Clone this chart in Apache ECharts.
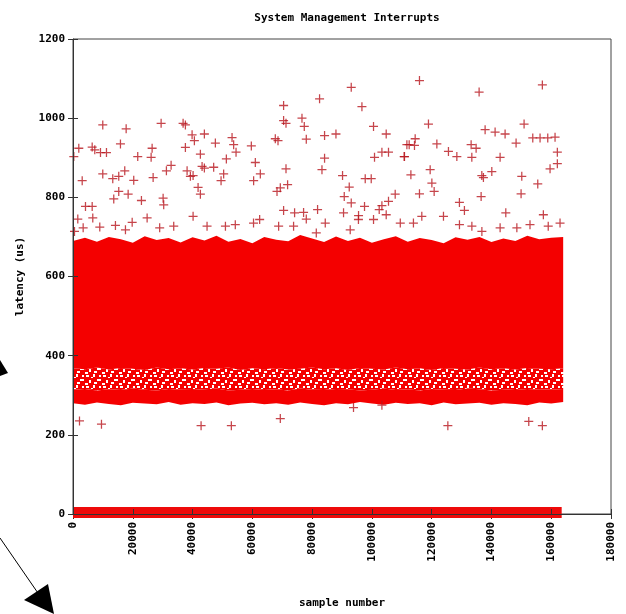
<!DOCTYPE html>
<html lang="en">
<head>
    <meta charset="UTF-8">
    <title>System Management Interrupts</title>
    <style>
        body { margin: 0; background: #fff; }
        #chart { width: 626px; height: 614px; }
    </style>
    <script src="https://cdn.jsdelivr.net/npm/echarts@6/dist/echarts.min.js"></script>
</head>
<body>
<div id="chart"></div>
<script>
    const bandX = [0, 4000, 8000, 12000, 16000, 20000, 24000, 28000, 32000, 36000, 40000,
        44000, 48000, 52000, 56000, 60000, 64000, 68000, 72000, 76000, 80000,
        84000, 88000, 92000, 96000, 100000, 104000, 108000, 112000, 116000, 120000,
        124000, 128000, 132000, 136000, 140000, 144000, 148000, 152000, 156000, 160000, 164000];
    // top of the solid main band (us)
    const mainTop = [690, 698, 688, 700, 694, 685, 702, 692, 697, 686, 699, 691, 703, 688,
        695, 684, 700, 693, 689, 705, 696, 687, 701, 690, 698, 685, 694, 702, 688, 697,
        692, 684, 699, 693, 700, 687, 696, 690, 703, 694, 698, 700];
    // bottom of the solid main band
    const mainBottom = [368, 366, 370, 365, 369, 367, 364, 370, 366, 368, 365, 369, 367, 370,
        364, 368, 366, 369, 365, 367, 370, 366, 368, 364, 369, 367, 365, 370, 366, 368,
        364, 369, 367, 365, 370, 366, 368, 365, 369, 367, 366, 368];
    // top and bottom of the lower band around 300 us
    const lowTop = [314, 316, 312, 315, 313, 317, 314, 312, 316, 314, 313, 315, 317, 312,
        314, 316, 313, 315, 312, 317, 314, 313, 316, 315, 312, 314, 317, 313, 315, 312,
        316, 314, 313, 317, 315, 312, 314, 316, 313, 315, 314, 316];
    const lowBottom = [280, 276, 282, 278, 275, 281, 279, 277, 283, 276, 280, 278, 282, 275,
        279, 281, 277, 280, 276, 282, 278, 275, 280, 277, 283, 279, 276, 281, 278, 280,
        275, 282, 277, 279, 281, 276, 280, 278, 275, 282, 279, 283];
    // samples reported at ~0 us
    const zeroX = [0, 163500];
    const zeroTop = [18, 18];
    const zeroBottom = [-10, -10];

    // isolated samples above the band
    const highOutliers = [
        [270, 903], [1939, 924], [3075, 842], [4178, 777], [6418, 777], [1604, 745], [6618, 748],
        [6418, 927], [7287, 920], [9192, 913], [11198, 913], [9961, 983], [9961, 859], [13304, 847],
        [15309, 853], [17315, 867], [15877, 935], [17783, 973], [13638, 796], [15309, 815],
        [18451, 808], [20323, 843], [21660, 903], [22897, 792], [26139, 901], [26473, 924],
        [26808, 850], [29482, 987], [30150, 798], [30351, 781], [31253, 867], [32824, 881],
        [36835, 987], [37604, 983], [37604, 926], [38172, 867], [39276, 853], [40178, 855],
        [39844, 958], [40613, 943], [43955, 960], [42618, 909], [43186, 878], [43955, 874],
        [41849, 825], [42618, 808], [40178, 752], [47064, 876], [47632, 937], [50406, 859],
        [49537, 842], [51309, 897], [53214, 951], [53749, 933], [54551, 914],
        [59665, 930], [61002, 888], [62674, 859], [60434, 842], [67688, 948], [68590, 943],
        [70462, 1032], [70462, 994], [71264, 987], [71264, 872], [71799, 832], [68256, 815],
        [69359, 824], [70462, 767], [74139, 761], [76612, 1000], [77381, 979], [78050, 947],
        [77147, 762], [78050, 745], [82496, 1049], [84167, 956], [87977, 960], [84167, 899],
        [83298, 870], [81827, 769], [93091, 1078], [96668, 1029], [100545, 979], [104790, 960],
        [100879, 901], [103352, 914], [105559, 914], [110807, 903], [111709, 933], [90183, 855],
        [92423, 826], [90752, 802], [93091, 786], [97771, 847], [99777, 847], [97537, 777],
        [107799, 808], [105559, 790], [103352, 779], [102451, 769], [104790, 756], [90517, 761],
        [95533, 754],
        [115921, 1095], [135875, 1066], [157035, 1084], [118929, 985], [114484, 948],
        [112478, 933], [114250, 931], [110907, 903], [121737, 935], [125615, 916], [128423, 903],
        [133203, 933], [134874, 924], [133435, 901], [137882, 971], [141225, 965], [144567, 960],
        [142896, 901], [148244, 937], [150918, 985], [153826, 950], [156266, 950], [158840, 950],
        [161280, 952], [162049, 914], [162049, 885], [159609, 872], [113047, 857], [119498, 870],
        [120066, 836], [120835, 815], [115921, 809], [136779, 855], [137314, 850], [140120, 865],
        [136545, 802], [150149, 853], [155497, 834], [149916, 809], [129288, 787], [130960, 767],
        [144801, 761], [157369, 756]
    ];
    // loose samples along the top edge of the band
    const edgeMarks = [
        [500, 714], [3400, 723], [8960, 725], [14200, 729], [17550, 718], [19800, 737],
        [24800, 748], [29000, 723], [33700, 727], [44850, 727], [51000, 727], [54300, 731],
        [60400, 735], [62450, 744], [68800, 727], [73800, 727], [81400, 710], [84400, 735],
        [92750, 718], [95500, 744], [100550, 744], [109500, 735], [113900, 735], [116700, 752],
        [123950, 752], [129300, 731], [133450, 727], [136800, 714], [142900, 723], [148500, 723],
        [152900, 731], [159000, 727], [162950, 735]
    ];
    // isolated samples below the bands
    const lowOutliers = [
        [2173, 235], [9526, 227], [42852, 223], [52980, 223], [69359, 241], [125414, 223],
        [152488, 234], [157035, 223], [93850, 269], [103350, 275]
    ];

    const RED = '#f40000';
    const MARK = '#b8161e';
    const FONT = 'DejaVu Sans Mono';
    const plus = 'path://M4.3,0H5.7V4.3H10V5.7H5.7V10H4.3V5.7H0V4.3H4.3Z';

    // speckled texture for the half-filled zone between the two bands
    const tile = document.createElement('canvas');
    tile.width = 17; tile.height = 11;
    const tc = tile.getContext('2d');
    tc.fillStyle = RED;
    tc.fillRect(0, 0, 17, 11);
    [[1, 1, 3, 2], [8, 0, 2, 3], [12, 5, 4, 2], [4, 6, 2, 3], [14, 1, 2, 2], [0, 9, 3, 2], [9, 8, 3, 2], [6, 3, 2, 1]]
        .forEach(r => tc.clearRect(r[0], r[1], r[2], r[3]));

    function band(xs, upper, lower, fill) {
        return function (params, api) {
            const pts = [];
            for (let i = 0; i < xs.length; i++) pts.push(api.coord([xs[i], upper[i]]));
            for (let i = xs.length - 1; i >= 0; i--) pts.push(api.coord([xs[i], lower[i]]));
            return { type: 'polygon', shape: { points: pts }, style: { fill: fill } };
        };
    }

    const chart = echarts.init(document.getElementById('chart'));
    const labelStyle = { color: '#000', fontFamily: FONT, fontSize: 11, fontWeight: 'bold' };
    const plain = v => String(v);

    chart.setOption({
        animation: false,
        title: {
            text: 'System Management Interrupts',
            left: 342, top: 8, textAlign: 'center',
            textStyle: { color: '#000', fontFamily: FONT, fontSize: 11, fontWeight: 'bold' }
        },
        grid: { left: 73, right: 15, top: 39, bottom: 99, show: true, borderColor: '#444', borderWidth: 1 },
        xAxis: [{
            type: 'value', min: 0, max: 180000, interval: 20000, z: 10,
            name: 'sample number', nameLocation: 'middle', nameGap: 84,
            nameTextStyle: labelStyle,
            axisLine: { lineStyle: { color: '#333' } },
            axisTick: { inside: true, length: 5, lineStyle: { color: '#333' } },
            axisLabel: Object.assign({ rotate: 90, margin: 8, formatter: plain }, labelStyle),
            splitLine: { show: false }
        }, {
            type: 'value', min: 0, max: 180000, interval: 20000, position: 'top',
            axisLine: { show: false },
            axisTick: { inside: true, length: 5, lineStyle: { color: '#333' } },
            axisLabel: { show: false }, splitLine: { show: false }
        }],
        yAxis: [{
            type: 'value', min: 0, max: 1200, interval: 200, z: 10,
            name: 'latency (us)', nameLocation: 'middle', nameGap: 47,
            nameTextStyle: labelStyle,
            axisLine: { show: true, lineStyle: { color: '#333' } },
            axisTick: { show: true, inside: true, length: 5, lineStyle: { color: '#333' } },
            axisLabel: Object.assign({ margin: 8, formatter: plain }, labelStyle),
            splitLine: { show: false }
        }, {
            type: 'value', min: 0, max: 1200, interval: 200, position: 'right',
            axisLine: { show: false },
            axisTick: { show: true, inside: true, length: 5, lineStyle: { color: '#333' } },
            axisLabel: { show: false }, splitLine: { show: false }
        }],
        series: [
            { type: 'custom', data: [[0, 0]], renderItem: band(bandX, mainTop, mainBottom, RED), z: 2 },
            { type: 'custom', data: [[0, 0]], renderItem: band(bandX, mainBottom, lowTop, { image: tile, repeat: 'repeat' }), z: 2 },
            { type: 'custom', data: [[0, 0]], renderItem: band(bandX, lowTop, lowBottom, RED), z: 2 },
            { type: 'custom', data: [[0, 0]], clip: false, renderItem: band(zeroX, zeroTop, zeroBottom, '#ee0a0a'), z: 2 },
            {
                type: 'scatter', data: edgeMarks.concat(highOutliers, lowOutliers), symbol: plus, symbolSize: 9,
                itemStyle: { color: MARK }, z: 3
            }
        ],
        graphic: [
            { type: 'polygon', shape: { points: [[0, 360], [8, 373], [0, 376]] }, style: { fill: '#000' } },
            { type: 'line', shape: { x1: 0, y1: 538, x2: 40, y2: 596 }, style: { stroke: '#000', lineWidth: 1 } },
            { type: 'polygon', shape: { points: [[24, 600], [48, 584], [54, 614]] }, style: { fill: '#000' } }
        ]
    });
</script>
</body>
</html>
